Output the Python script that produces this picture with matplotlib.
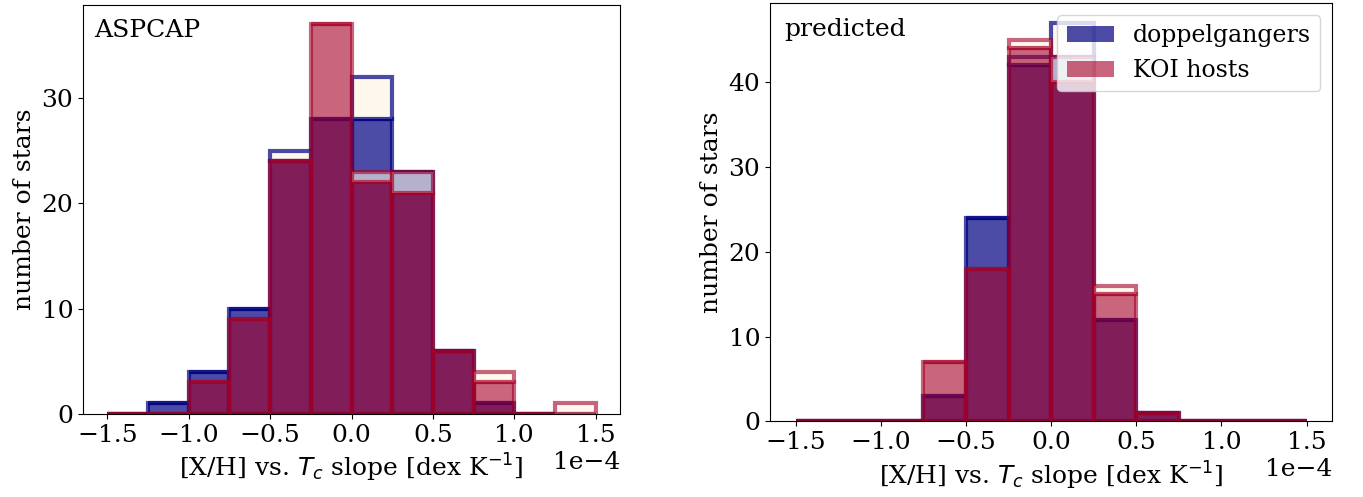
import numpy as np
import matplotlib
matplotlib.use('Agg')
import matplotlib.pyplot as plt
from matplotlib.ticker import MultipleLocator
from matplotlib.patches import Patch

plt.rcParams['font.family'] = 'DejaVu Serif'
plt.rcParams['font.size'] = 18

# bins of the Tc slope, dex/K
bin_edges = np.linspace(-1.5e-4, 1.5e-4, 13)
bin_centers = 0.5 * (bin_edges[:-1] + bin_edges[1:])

# ASPCAP counts (cleaned sample / all stars)
aspcap_dop = [0, 1, 4, 10, 24, 28, 28, 23, 6, 1, 0, 0]
aspcap_dop_all = [0, 1, 4, 10, 25, 28, 32, 23, 6, 1, 0, 0]
aspcap_koi = [0, 0, 3, 9, 24, 37, 22, 21, 6, 3, 0, 0]
aspcap_koi_all = [0, 0, 3, 9, 24, 37, 23, 23, 6, 4, 0, 1]

# predicted counts
pred_dop = [0, 0, 0, 3, 24, 42, 43, 12, 1, 0, 0, 0]
pred_dop_all = [0, 0, 0, 3, 24, 43, 47, 12, 1, 0, 0, 0]
pred_koi = [0, 0, 0, 7, 18, 44, 40, 15, 1, 0, 0, 0]
pred_koi_all = [0, 0, 0, 7, 18, 45, 43, 16, 1, 0, 0, 0]

blue = 'navy'
red = '#a50026'
cream = 'oldlace'

fig = plt.figure(figsize=(13.63, 4.97), dpi=100)
ax1 = fig.add_axes([0.0609, 0.167, 0.394, 0.823])
ax2 = fig.add_axes([0.565, 0.152, 0.4123, 0.842])


def draw(ax, dop, dop_all, koi, koi_all):
    # sample in colour, the remaining stars stacked on top in cream
    for sub, tot, c, a in [(dop, dop_all, blue, 0.7), (koi, koi_all, red, 0.6)]:
        rest = np.array(tot) - np.array(sub)
        ax.hist([bin_centers, bin_centers], bins=bin_edges,
                weights=[sub, rest], stacked=True, color=[c, cream],
                edgecolor=c, linewidth=3, alpha=a)
    ax.xaxis.set_major_locator(MultipleLocator(0.5e-4))
    ax.ticklabel_format(axis='x', style='sci', scilimits=(0, 0))
    ax.yaxis.set_major_locator(MultipleLocator(10))
    ax.set_xlabel(r'[X/H] vs. $T_c$ slope [dex K$^{-1}$]')
    ax.set_ylabel('number of stars')


draw(ax1, aspcap_dop, aspcap_dop_all, aspcap_koi, aspcap_koi_all)
draw(ax2, pred_dop, pred_dop_all, pred_koi, pred_koi_all)

ax1.text(0.02, 0.965, 'ASPCAP', transform=ax1.transAxes, va='top', ha='left')
ax2.text(0.025, 0.965, 'predicted', transform=ax2.transAxes, va='top', ha='left')

handles = [Patch(facecolor=blue, alpha=0.7), Patch(facecolor=red, alpha=0.6)]
ax2.legend(handles, ['doppelgangers', 'KOI hosts'], loc='upper right',
           fontsize=17)

fig.savefig('out.png', dpi=100)
